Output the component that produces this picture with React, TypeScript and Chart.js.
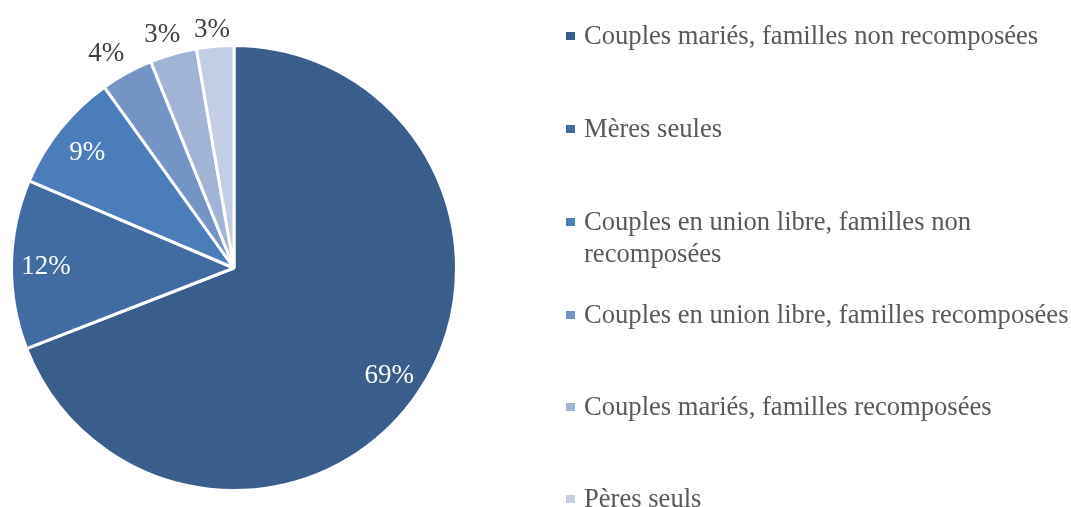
import React, { useEffect, useRef } from "react";
import { Chart, registerables } from "chart.js";

Chart.register(...registerables);

const categories = [
  "Couples mariés, familles non recomposées",
  "Mères seules",
  "Couples en union libre, familles non recomposées",
  "Couples en union libre, familles recomposées",
  "Couples mariés, familles recomposées",
  "Pères seuls",
];
const shares = [69.1, 12.3, 8.7, 3.8, 3.4, 2.7];
const percentLabels = ["69%", "12%", "9%", "4%", "3%", "3%"];
const sliceColors = ["#3A5E8B", "#406CA2", "#4A7DBA", "#7394C5", "#A2B4D6", "#C3CEE4"];

const SERIF = "'Liberation Serif', 'Times New Roman', serif";

const labelPlugin = {
  id: "sliceLabels",
  afterDatasetsDraw(chart: any) {
    const ctx = chart.ctx;
    const meta = chart.getDatasetMeta(0);
    ctx.save();
    ctx.font = `27px ${SERIF}`;
    ctx.textAlign = "center";
    ctx.textBaseline = "middle";
    meta.data.forEach((arc: any, i: number) => {
      const { x, y, startAngle, endAngle, outerRadius } = arc.getProps(
        ["x", "y", "startAngle", "endAngle", "outerRadius"],
        true
      );
      const mid = (startAngle + endAngle) / 2;
      const cx = Math.cos(mid);
      const sy = Math.sin(mid);
      const inside = shares[i] >= 5;
      if (inside) {
        const r = outerRadius * 0.845;
        ctx.fillStyle = "#FFFFFF";
        ctx.fillText(percentLabels[i], x + cx * r, y + sy * r + 2);
      } else {
        const hw = ctx.measureText(percentLabels[i]).width / 2;
        const hh = 10;
        const r = outerRadius + 11 + hw * Math.abs(cx) + hh * Math.abs(sy);
        ctx.fillStyle = "#404040";
        ctx.fillText(percentLabels[i], x + cx * r + cx * hw * 0.8, y + sy * r + 6);
      }
    });
    ctx.restore();
  },
};

const legendPlugin = {
  id: "wrappedLegend",
  afterDraw(chart: any) {
    const ctx = chart.ctx;
    const capCenters = [35, 128, 221, 314, 406, 498];
    const textX = 584;
    const maxWidth = 500;
    const lineHeight = 32;
    ctx.save();
    ctx.font = `26.6px ${SERIF}`;
    ctx.textAlign = "left";
    ctx.textBaseline = "alphabetic";
    categories.forEach((label, i) => {
      const c = capCenters[i];
      ctx.fillStyle = sliceColors[i];
      ctx.fillRect(566, c - 3, 9, 8);
      const words = label.split(" ");
      const lines: string[] = [];
      let cur = "";
      words.forEach((w) => {
        const test = cur ? cur + " " + w : w;
        if (ctx.measureText(test).width > maxWidth && cur) {
          lines.push(cur);
          cur = w;
        } else cur = test;
      });
      if (cur) lines.push(cur);
      ctx.fillStyle = "#595959";
      lines.forEach((ln, k) => ctx.fillText(ln, textX, c + 8.5 + k * lineHeight));
    });
    ctx.restore();
  },
};

export default function App() {
  const ref = useRef<HTMLCanvasElement | null>(null);
  useEffect(() => {
    if (!ref.current) return;
    const chart = new Chart(ref.current, {
      type: "pie",
      data: {
        labels: categories,
        datasets: [
          {
            data: shares,
            backgroundColor: sliceColors,
            borderColor: "#FFFFFF",
            borderWidth: 3,
          },
        ],
      },
      options: {
        responsive: false,
        animation: false,
        layout: { padding: { left: 10, top: 44, right: 613, bottom: 15 } },
        plugins: {
          legend: { display: false },
          tooltip: { enabled: false },
        },
      },
      plugins: [labelPlugin, legendPlugin],
    });
    return () => chart.destroy();
  }, []);
  return (
    <div style={{ position: "absolute", left: 0, top: 0, width: 1071, height: 507, background: "#FFFFFF" }}>
      <canvas ref={ref} width={1071} height={507} style={{ display: "block" }} />
    </div>
  );
}
